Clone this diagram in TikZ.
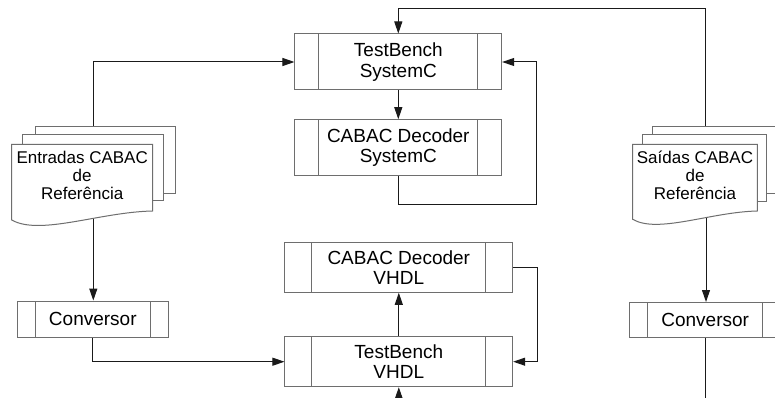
\documentclass[tikz,border=0pt]{standalone}
\usepackage{fontspec}
\setmainfont{Liberation Sans}
\usetikzlibrary{arrows.meta,calc}
\definecolor{edgegray}{HTML}{6E6E6E}
\definecolor{wire}{HTML}{1A1A1A}

\begin{document}
\begin{tikzpicture}[x=1pt,y=-1pt,
  proc/.style={draw=edgegray, line width=1pt, fill=white, inner sep=0pt, align=center,
    font=\fontsize{19}{20.3}\selectfont,
    path picture={
      \draw[edgegray,line width=1pt]
        ([xshift=#1]path picture bounding box.north west) --
        ([xshift=#1]path picture bounding box.south west);
      \draw[edgegray,line width=1pt]
        ([xshift=-#1]path picture bounding box.north east) --
        ([xshift=-#1]path picture bounding box.south east);}},
  page/.style={draw=edgegray, line width=1pt, fill=white},
  flow/.style={draw=wire, line width=1pt, -{Triangle[length=12pt,width=8pt]}},
  plain/.style={draw=wire, line width=1pt},
  doctext/.style={align=center, font=\fontsize{17}{17.7}\selectfont, inner sep=0pt}]

\useasboundingbox (0,0) rectangle (775,398);
\clip (0,0) rectangle (775,398);
\fill[white] (0,0) rectangle (775,398);

% process blocks
\node[proc=24pt, minimum width=206.7pt, minimum height=56pt] (tbs) at (398.3,62) {TestBench\\SystemC};
\node[proc=24pt, minimum width=206.7pt, minimum height=56pt] (cds) at (398.3,147.7) {CABAC Decoder\\SystemC};
\node[proc=26.7pt, minimum width=227.7pt, minimum height=50pt] (cdv) at (398.8,267.3) {CABAC Decoder\\VHDL};
\node[proc=26.7pt, minimum width=227.7pt, minimum height=50pt] (tbv) at (398.8,361.7) {TestBench\\VHDL};
\node[proc=18pt, minimum width=151pt, minimum height=36.3pt] (cva) at (92.8,319.2) {Conversor};
\node[proc=18pt, minimum width=151pt, minimum height=35pt] (cvb) at (705.2,320) {Conversor};

% attachment points of the document stacks
\coordinate (inTop) at (93.3,130);
\coordinate (inBot) at (93.3,212);
\coordinate (outTop) at (705,130);
\coordinate (outBot) at (706,211);
\coordinate (topRail) at (0,9);
\coordinate (railA) at (536.7,204.7);
\coordinate (railB) at (537,0);
\coordinate (vhdlIn) at (398.8,410);
\coordinate (convOut) at (705.2,410);

% connectors
\draw[flow] (inTop) |- (tbs.west);
\draw[flow] (outTop) -- (outTop |- topRail) -| (tbs.north);
\draw[flow] (tbs.south) -- (cds.north);
\draw[flow] (cds.south) |- (railA) |- (tbs.east);
\draw[flow] (inBot) -- (inBot |- cva.north);
\draw[flow] (cva.south) |- (tbv.west);
\draw[flow] (cdv.east) -| (railB |- tbv.east) -- (tbv.east);
\draw[flow] (tbv.north) -- (cdv.south);
\draw[flow] (vhdlIn) -- (tbv.south);
\draw[flow] (outBot) -- (outBot |- cvb.north);
\draw[plain] (cvb.south) -- (convOut);

% input document stack
\draw[page] (35,126.7) rectangle (175,193.3);
\draw[page] (22.7,135) rectangle (163.7,200);
\draw[page] (11.7,144.5) -- (152.7,144.5) -- (152.7,211)
  .. controls (100,212) and (40,236) .. (11.7,220) -- cycle;
\node[doctext, anchor=base] (refin) at (82.2,199.3) {Entradas CABAC\\de\\Referência};

% output document stack
\draw[page] (652.7,126.7) rectangle (790,193.3);
\draw[page] (642.3,135) rectangle (766.7,201.7);
\draw[page] (632.7,144.5) -- (757.3,144.5) -- (757.3,211)
  .. controls (710.8,212) and (657.6,234) .. (632.7,219.3) -- cycle;
\node[doctext, anchor=base] (refout) at (695,199.3) {Saídas CABAC\\de\\Referência};

\end{tikzpicture}
\end{document}
